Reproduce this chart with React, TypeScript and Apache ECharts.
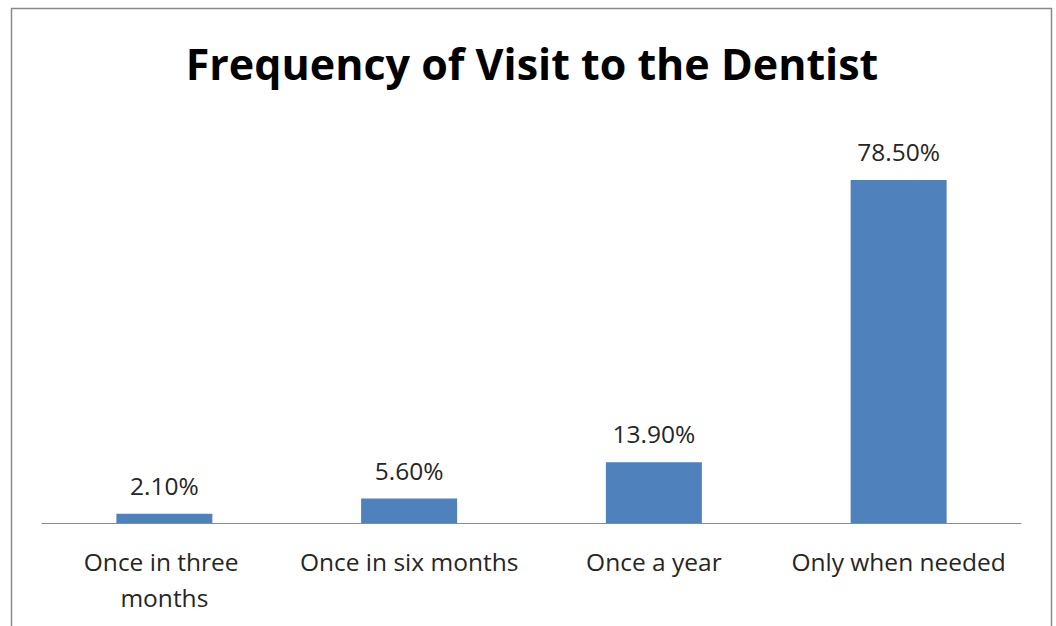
import React, { useEffect, useRef } from "react";
import * as echarts from "echarts";

const categories = ["Once in three months", "Once in six months", "Once a year", "Only when needed"];
const values = [2.1, 5.6, 13.9, 78.5];
const titleText = "Frequency of Visit to the Dentist";

export default function App() {
  const ref = useRef<HTMLDivElement>(null);
  useEffect(() => {
    const chart = echarts.init(ref.current!, null, { renderer: "svg" });
    chart.setOption({
      animation: false,
      backgroundColor: "#ffffff",
      graphic: [
        {
          type: "rect",
          shape: { x: 11.5, y: 8.5, width: 1040, height: 640 },
          style: { fill: "none", stroke: "#8a8a8a", lineWidth: 1.5 },
        },
        {
          type: "text",
          x: 532,
          y: 63,
          style: {
            text: titleText,
            fontFamily: "Open Sans",
            fontWeight: "bold",
            fontSize: 43,
            fill: "#000000",
            textAlign: "center",
            textVerticalAlign: "middle",
          },
        },
      ],
      grid: { left: 42, right: 35, top: 173.4, bottom: 103, containLabel: false },
      xAxis: {
        type: "category",
        data: categories,
        axisLine: { lineStyle: { color: "#8a8a8a", width: 1 } },
        axisTick: { show: false },
        axisLabel: {
          color: "#262626",
          fontFamily: "Open Sans",
          fontSize: 24.5,
          lineHeight: 36,
          margin: 20,
          width: 240,
          overflow: "break",
          interval: 0,
        },
      },
      yAxis: { type: "value", min: 0, max: 80, show: false, splitLine: { show: false } },
      series: [
        {
          type: "bar",
          data: values,
          barWidth: 96,
          itemStyle: { color: "#4F81BD" },
          label: {
            show: true,
            position: "top",
            distance: 16,
            color: "#262626",
            fontFamily: "Open Sans",
            fontSize: 24.5,
            formatter: (p: any) => p.value.toFixed(2) + "%",
          },
        },
      ],
    });
    return () => chart.dispose();
  }, []);
  return (
    <div
      ref={ref}
      style={{ position: "fixed", left: 0, top: 0, width: 1056, height: 626 }}
    />
  );
}
